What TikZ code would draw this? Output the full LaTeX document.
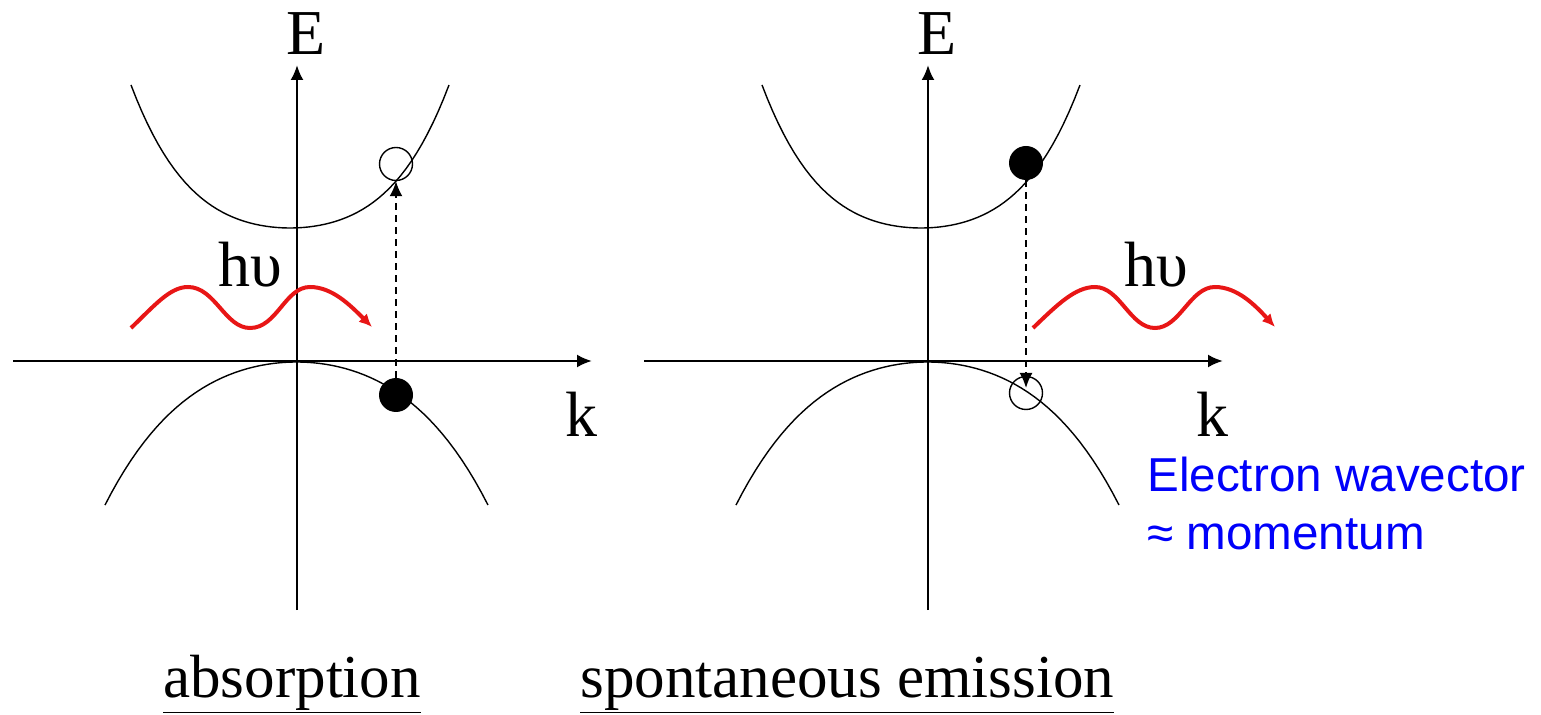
\documentclass[tikz,border=0pt]{standalone}
\usepackage{fontspec}
\setmainfont{Liberation Serif}
\newfontfamily\notefont{Liberation Sans}
\usetikzlibrary{arrows.meta}
\definecolor{photonred}{RGB}{232,22,22}
\definecolor{noteblue}{RGB}{0,0,250}

\begin{document}
\begin{tikzpicture}[x=0.5pt,y=-0.5pt,>={Latex[length=7.5pt,width=6.5pt]},
    axis/.style={->,line width=1.2pt},
    band/.style={line width=0.7pt},
    trans/.style={->,line width=1pt,dash pattern=on 3.5pt off 2.5pt},
    photon/.style={->,>={Latex[length=6.5pt,width=6pt]},line width=2pt,photonred},
    electron/.style={circle,fill,inner sep=0pt,minimum size=17pt},
    hole/.style={circle,draw,line width=0.7pt,inner sep=0pt,minimum size=16.5pt},
    lbl/.style={font=\fontsize{32}{38}\selectfont,inner sep=0pt,anchor=base},
    caption/.style={font=\fontsize{30.5}{37}\selectfont,inner sep=0pt,anchor=base west}]
  \useasboundingbox (0,0) rectangle (1541,715);

  % both panels: axes, labels, bands
  \foreach \dx/\p in {0/a,631/b} {
    \begin{scope}[shift={(\dx,0)}]
      \coordinate (\p Ebot) at (297,610);
      \coordinate (\p Etop) at (297,65);
      \coordinate (\p kl) at (13,361);
      \coordinate (\p kr) at (592,361);
      \draw[axis] (\p Ebot) -- (\p Etop);
      \draw[axis] (\p kl) -- (\p kr);
      \node[lbl] (\p E) at (306,55) {E};
      \node[lbl] (\p k) at (581,437) {k};
      \draw[band] plot[domain=-1.59:1.59,samples=60] ({290+100*\x},{228-29.8*\x*\x-10.59*\x*\x*\x*\x});
      \draw[band] plot[domain=-1.915:1.915,samples=60] ({296.5+100*\x},{362+26.63*\x*\x+3.374*\x*\x*\x*\x});
    \end{scope}
  }

  % absorption
  \node[electron] (ea) at (396,395) {};
  \node[hole] (ha) at (396,164) {};
  \draw[trans] (ea) -- (ha);
  \coordinate (wa) at (131,328);
  \coordinate (wa') at (372,327);
  \draw[photon] (wa) .. controls (155,305) and (170,287) .. (188,287)
    .. controls (215,287) and (225,328) .. (250,328)
    .. controls (277,328) and (285,287) .. (310,287)
    .. controls (332,287) and (350,305) .. (wa');
  \node[lbl] (hva) at (250,287) {hυ};

  % spontaneous emission
  \node[electron] (eb) at (1026,163) {};
  \node[hole] (hb) at (1026,393) {};
  \draw[trans,shorten >=2.5pt] (eb) -- (hb.center);
  \coordinate (wb) at (1033,328);
  \coordinate (wb') at (1275,327);
  \draw[photon] (wb) .. controls (1057,305) and (1075,287) .. (1095,287)
    .. controls (1120,287) and (1130,328) .. (1155,328)
    .. controls (1180,328) and (1190,287) .. (1215,287)
    .. controls (1237,287) and (1255,305) .. (wb');
  \node[lbl] (hvb) at (1156,287) {hυ};

  \node[caption] (abs) at (163,697) {\underline{absorption}};
  \node[caption] (spe) at (580,697) {\underline{spontaneous emission}};
  \node[font=\notefont\fontsize{23.8}{29}\selectfont,text=noteblue,align=left,
    anchor=base west,inner sep=0pt] (note) at (1147,550) {Electron wavector\\≈ momentum};
\end{tikzpicture}
\end{document}
